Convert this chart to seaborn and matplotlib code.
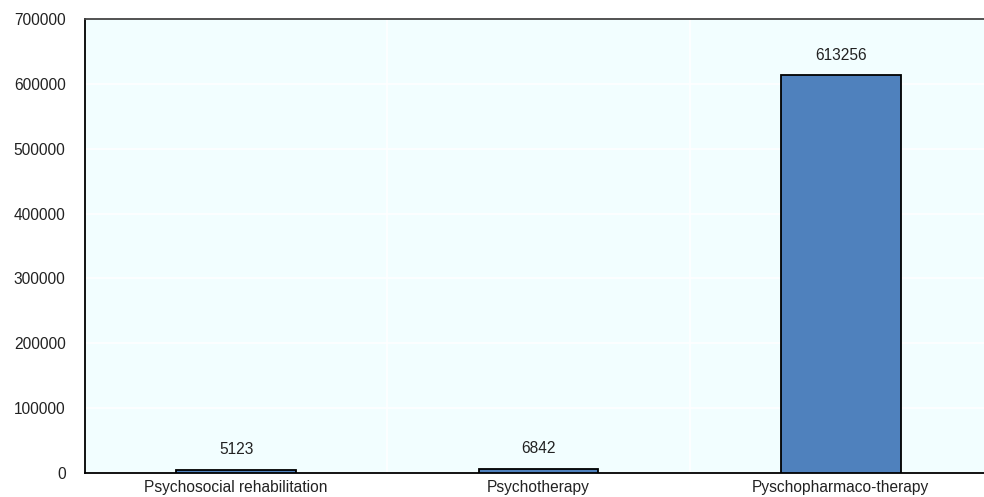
import matplotlib
matplotlib.use("Agg")
import matplotlib.pyplot as plt
import seaborn as sns
import pandas as pd

categories = ["Psychosocial rehabilitation", "Psychotherapy", "Pyschopharmaco-therapy"]
values = [5123, 6842, 613256]
y_ticks = [0, 100000, 200000, 300000, 400000, 500000, 600000, 700000]

sns.set_theme(style="white")
plt.rcParams["font.family"] = ["Liberation Sans", "DejaVu Sans"]

df = pd.DataFrame({"category": categories, "value": values})

fig = plt.figure(figsize=(9.84, 4.97), dpi=100)
ax = fig.add_axes([85 / 984, 24 / 497, 907 / 984, 454 / 497])
ax.set_facecolor("#F2FEFF")

sns.barplot(data=df, x="category", y="value", color="#4F81BD", width=0.395,
            edgecolor="black", linewidth=1.3, saturation=1, ax=ax, zorder=3)

ax.set_xlim(-0.5, 2.5)
ax.set_ylim(0, 700000)
ax.set_yticks(y_ticks)
ax.set_yticklabels([str(t) for t in y_ticks], fontsize=11.2, color="#222222")
ax.set_xlabel("")
ax.set_ylabel("")

# category separators carry the x tick marks
ax.set_xticks([0.5, 1.5], minor=False)
ax.set_xticklabels([])
ax.set_xticks([0, 1, 2], minor=True)
ax.set_xticklabels(categories, minor=True, fontsize=11.2, color="#222222")
ax.tick_params(axis="x", which="minor", length=0, pad=5)
ax.tick_params(axis="x", which="major", direction="in", length=5, width=1, color="black")
ax.tick_params(axis="y", direction="in", length=5, width=1, color="black", pad=14)

ax.grid(True, axis="y", color="white", linewidth=1.2, zorder=0)
ax.grid(True, axis="x", which="major", color="white", linewidth=1.2, zorder=0)
ax.set_axisbelow(True)

for side in ["left", "bottom", "top"]:
    ax.spines[side].set_visible(True)
    ax.spines[side].set_color("black")
    ax.spines[side].set_linewidth(1.3)
ax.spines["top"].set_color("#444444")
ax.spines["right"].set_visible(False)

for i, v in enumerate(values):
    ax.annotate(str(v), (i, v), xytext=(0, 9), textcoords="offset points",
                ha="center", va="bottom", fontsize=11.2, color="#222222")

fig.savefig("out.png", dpi=100)
